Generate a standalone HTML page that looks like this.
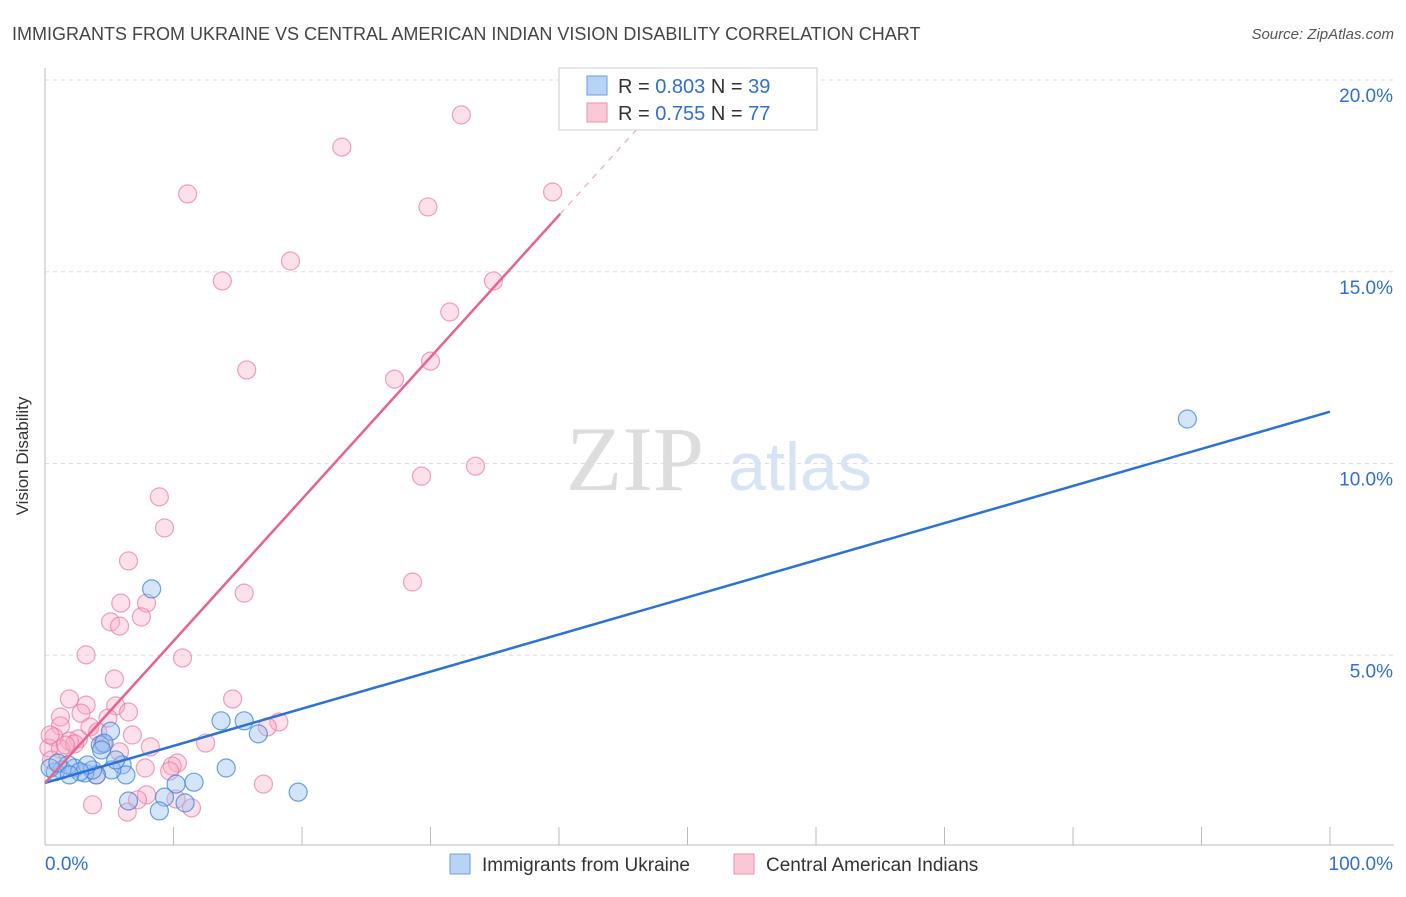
<!DOCTYPE html>
<html><head><meta charset="utf-8"><style>
body{margin:0;background:#fff;font-family:"Liberation Sans",sans-serif}
</style></head><body>
<svg id="c" width="1406" height="892" viewBox="0 0 1406 892" xmlns="http://www.w3.org/2000/svg">
<text x="12" y="40" font-size="18" fill="#444">IMMIGRANTS FROM UKRAINE VS CENTRAL AMERICAN INDIAN VISION DISABILITY CORRELATION CHART</text>
<text x="1394" y="39" font-size="15" fill="#555" font-style="italic" text-anchor="end">Source: ZipAtlas.com</text>
<text x="28" y="456" font-size="17" fill="#333" transform="rotate(-90 28 456)" text-anchor="middle">Vision Disability</text>
<g><text x="635" y="490" font-size="92" fill="#ddd" font-family="Liberation Serif" text-anchor="middle">ZIP</text><text x="800" y="490" font-size="68" fill="#d6e4f5" text-anchor="middle">atlas</text></g>
<g id="grid"></g><g id="axes"></g><g id="pts"></g><g id="lines"></g>
<g>
<rect x="559" y="68" width="258" height="62" fill="#fff" stroke="#ccc"/>
<rect x="587" y="76" width="20" height="19" fill="#b8d3f5" stroke="#6a9de0"/>
<rect x="587" y="103" width="20" height="19" fill="#fbc8d8" stroke="#ef8fae"/>
<text x="618" y="93" font-size="20" fill="#333">R = <tspan fill="#2f6fd0">0.803</tspan>   N = <tspan fill="#2f6fd0">39</tspan></text>
<text x="618" y="120" font-size="20" fill="#333">R = <tspan fill="#2f6fd0">0.755</tspan>   N = <tspan fill="#2f6fd0">77</tspan></text>
</g>
<g>
<rect x="450" y="854" width="20" height="20" fill="#b8d3f5" stroke="#6a9de0"/>
<text x="482" y="871" font-size="19" fill="#333">Immigrants from Ukraine</text>
<rect x="734" y="854" width="20" height="20" fill="#fbc8d8" stroke="#ef8fae"/>
<text x="766" y="871" font-size="19" fill="#333">Central American Indians</text>
</g>
</svg>
<script>
const yTicks=[5,10,15,20];
const xTickLabels=["0.0%","100.0%"];
const blueX=[88.9,8.3,13.7,15.5,16.6,5.1,4.3,14.1,11.6,10.2,19.7,9.3,6.5,10.9,8.9,6.0,6.3,5.2,4.0,3.1,2.3,1.3,0.8,0.4,1.8,3.7,4.6,3.3,1.0,2.7,5.5,1.9,4.4];
const blueY=[11.16,6.73,3.29,3.29,2.95,3.02,2.66,2.06,1.69,1.64,1.43,1.30,1.20,1.15,0.94,2.14,1.88,2.01,1.88,1.93,2.06,2.01,1.96,2.06,2.14,2.01,2.71,2.14,2.19,1.96,2.27,1.88,2.53];
const pinkX=[32.4,23.1,11.1,39.5,29.8,19.1,13.8,34.9,31.5,30.0,27.2,15.7,33.5,29.3,8.9,9.3,6.5,28.6,15.5,7.9,5.9,7.5,5.1,5.8,3.2,10.7,5.4,1.9,14.6,3.2,5.5,6.5,2.8,1.2,4.9,3.5,1.2,18.2,17.3,6.8,4.1,0.7,2.6,1.9,12.5,8.2,1.2,5.8,4.5,10.3,9.9,7.8,9.7,17.0,7.9,7.2,10.2,3.7,11.4,6.4,0.3,0.5,2.3,1.6,4.0,0.4];
const pinkY=[19.09,18.25,17.03,17.08,16.69,15.28,14.76,14.76,13.95,12.67,12.20,12.44,9.93,9.67,9.13,8.32,7.46,6.91,6.62,6.36,6.36,6.00,5.87,5.76,5.01,4.93,4.38,3.86,3.86,3.70,3.68,3.52,3.49,3.39,3.36,3.13,3.16,3.26,3.13,2.92,3.00,2.87,2.82,2.76,2.71,2.61,2.56,2.48,2.69,2.19,2.11,2.06,1.98,1.64,1.36,1.23,1.25,1.10,1.02,0.91,2.58,2.27,2.69,2.66,1.88,2.92];
const blueLine=[[0,1.67],[100,11.35]];
const pinkLine=[[0,1.67],[40.1,16.51]];
const pinkDash=[[40.1,16.51],[47.9,19.4]];
const NS="http://www.w3.org/2000/svg";
const X=v=>45+v*12.85, Y=v=>847-v*38.35;
function mk(t,a,p){const e=document.createElementNS(NS,t);for(const k in a)e.setAttribute(k,a[k]);p.appendChild(e);return e;}
const grid=document.getElementById('grid'),axes=document.getElementById('axes'),pts=document.getElementById('pts'),lines=document.getElementById('lines');
yTicks.forEach(t=>{const l=mk('line',{x1:45,x2:1394,y1:Y(t),y2:Y(t),stroke:'#ddd','stroke-dasharray':'4,4'},grid);


const tx=mk('text',{x:1393,y:Y(t)+22,'font-size':19,fill:'#2f6fd0','text-anchor':'end'},grid);tx.textContent=t.toFixed(1)+'%';

});
mk('line',{x1:45,x2:45,y1:68,y2:845,stroke:'#bbb'},axes);
mk('line',{x1:45,x2:1394,y1:845,y2:845,stroke:'#bbb'},axes);
for(let i=1;i<=10;i++){mk('line',{x1:X(i*10),x2:X(i*10),y1:827,y2:845,stroke:'#bbb'},axes);}
const xl1=mk('text',{x:45,y:870,'font-size':19,fill:'#2f6fd0'},axes);xl1.textContent=xTickLabels[0];


const xl2=mk('text',{x:1393,y:870,'font-size':19,fill:'#2f6fd0','text-anchor':'end'},axes);xl2.textContent=xTickLabels[1];


pinkX.forEach((v,i)=>{const c=mk('circle',{cx:X(v),cy:Y(pinkY[i]),r:9,fill:'rgba(248,170,195,0.35)',stroke:'rgba(236,120,160,0.7)','stroke-width':1.2},pts);

});
blueX.forEach((v,i)=>{const c=mk('circle',{cx:X(v),cy:Y(blueY[i]),r:9,fill:'rgba(150,190,240,0.4)',stroke:'rgba(60,130,220,0.75)','stroke-width':1.2},pts);

});
const bl=mk('line',{x1:X(blueLine[0][0]),y1:Y(blueLine[0][1]),x2:X(blueLine[1][0]),y2:Y(blueLine[1][1]),stroke:'#2b72d6','stroke-width':2.5},lines);


const pl=mk('line',{x1:X(pinkLine[0][0]),y1:Y(pinkLine[0][1]),x2:X(pinkLine[1][0]),y2:Y(pinkLine[1][1]),stroke:'#e8628e','stroke-width':2.5},lines);


const pd=mk('line',{x1:X(pinkDash[0][0]),y1:Y(pinkDash[0][1]),x2:X(pinkDash[1][0]),y2:Y(pinkDash[1][1]),stroke:'#f0a8c0','stroke-width':1.2,'stroke-dasharray':'6,6'},lines);


</script>
</body></html>
